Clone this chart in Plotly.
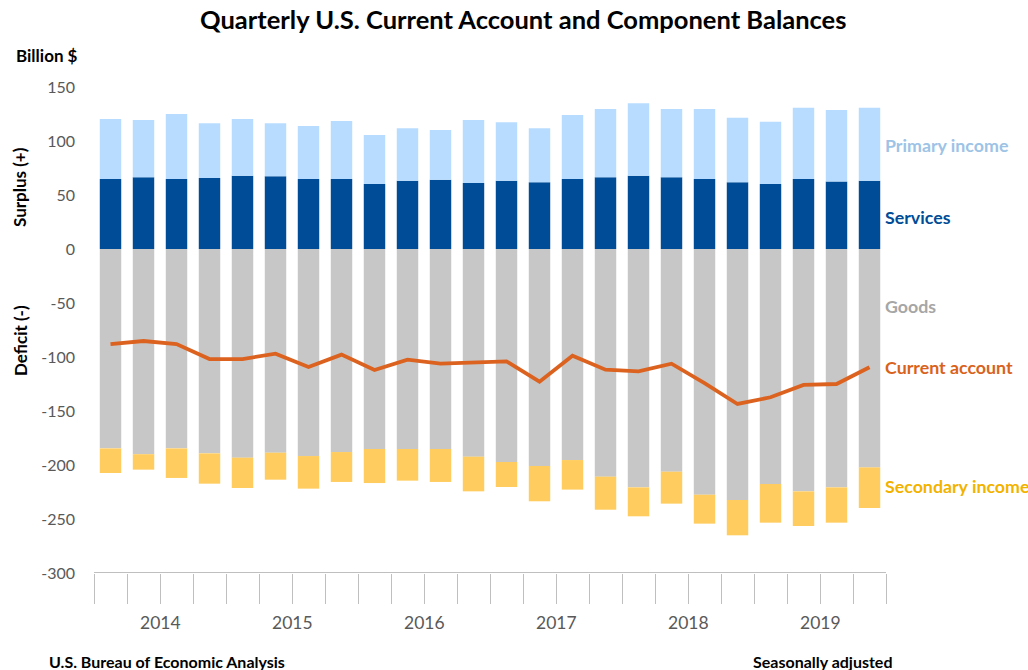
import plotly.graph_objects as go

years = ["2014", "2015", "2016", "2017", "2018", "2019"]
quarters = ["Q1", "Q2", "Q3", "Q4"]
periods = [f"{y} {q}" for y in years for q in quarters]

goods = [-184.6, -190.0, -184.6, -189.2, -193.2, -188.6, -191.7, -188.0, -185.2, -185.2, -185.2, -192.3,
         -197.2, -200.9, -195.4, -210.8, -220.7, -206.2, -227.5, -232.4, -217.6, -224.4, -220.7, -202.2]
secondary_income = [-22.8, -14.3, -27.4, -28.1, -28.1, -25.0, -30.2, -27.7, -31.5, -29.3, -30.5, -32.1,
                    -23.2, -32.7, -27.4, -30.6, -26.8, -29.6, -26.8, -32.7, -35.8, -32.1, -32.7, -37.6]
services = [64.8, 66.4, 64.8, 65.7, 67.9, 67.3, 64.8, 64.8, 60.2, 63.3, 64.2, 61.1,
            63.3, 61.7, 64.8, 66.4, 67.9, 66.4, 64.8, 61.7, 60.2, 64.8, 62.6, 63.3]
primary_income = [55.6, 53.0, 60.2, 50.7, 52.5, 49.1, 49.1, 53.7, 45.4, 48.4, 46.0, 58.3,
                  54.0, 50.0, 59.3, 63.2, 67.0, 63.2, 64.8, 59.9, 57.7, 66.1, 66.1, 67.6]
current_account = [-88.0, -85.2, -88.0, -101.9, -101.9, -96.9, -109.3, -97.8, -112.0, -102.5, -106.2, -105.2,
                   -104.0, -122.8, -98.8, -111.7, -113.3, -106.2, -124.1, -143.5, -137.3, -125.9, -125.0, -109.5]
y_ticks = [150, 100, 50, 0, -50, -100, -150, -200, -250, -300]
y_tick_text = ["150", "100", "50", "0", "-50", "-100", "-150", "-200", "-250", "-300"]

FONT = "Lato"
C_PRIM = "#b7dcff"
C_SERV = "#004c97"
C_GOODS = "#c6c7c6"
C_SEC = "#ffcd5f"
C_CA = "#dc6220"

W, H = 1028, 670
ML, MR, MT, MB = 94, 142, 87, 97

x = list(range(len(periods)))

fig = go.Figure()
fig.add_trace(go.Bar(x=x, y=services, name="Services", marker=dict(color=C_SERV, line=dict(width=0)),
                     customdata=periods, hovertemplate="%{customdata}: %{y}<extra>Services</extra>"))
fig.add_trace(go.Bar(x=x, y=primary_income, name="Primary income", marker=dict(color=C_PRIM, line=dict(width=0)),
                     customdata=periods, hovertemplate="%{customdata}: %{y}<extra>Primary income</extra>"))
fig.add_trace(go.Bar(x=x, y=goods, name="Goods", marker=dict(color=C_GOODS, line=dict(width=0)),
                     customdata=periods, hovertemplate="%{customdata}: %{y}<extra>Goods</extra>"))
fig.add_trace(go.Bar(x=x, y=secondary_income, name="Secondary income", marker=dict(color=C_SEC, line=dict(width=0)),
                     customdata=periods, hovertemplate="%{customdata}: %{y}<extra>Secondary income</extra>"))
fig.add_trace(go.Scatter(x=x, y=current_account, name="Current account", mode="lines",
                         line=dict(color=C_CA, width=3.8),
                         customdata=periods, hovertemplate="%{customdata}: %{y}<extra>Current account</extra>"))

n = len(periods)
year_edges = [i * 4 - 0.5 for i in range(len(years) + 1)]
year_centers = [i * 4 + 1.5 for i in range(len(years))]

fig.update_layout(
    width=W, height=H,
    barmode="relative", bargap=0.35,
    plot_bgcolor="white", paper_bgcolor="white",
    showlegend=False,
    margin=dict(l=ML, r=MR, t=MT, b=MB),
    font=dict(family=FONT, color="#595959"),
    title=dict(text="<b>Quarterly U.S. Current Account and Component Balances</b>",
               x=0.509, xanchor="center", y=1 - 20 / H, yanchor="middle",
               font=dict(size=25.5, color="black", family=FONT)),
    xaxis=dict(range=[-0.5, n - 0.5], showgrid=False, zeroline=False,
               showline=False, tickvals=year_edges, ticktext=[""] * len(year_edges),
               ticks="outside", ticklen=60, tickcolor="#bfbfbf", tickwidth=1,
               minor=dict(tickvals=[i - 0.5 for i in range(n + 1)], ticks="outside", ticklen=30,
                          tickcolor="#bfbfbf", tickwidth=1),
               anchor="y"),
    yaxis=dict(range=[-300, 150], tickvals=y_ticks, ticktext=y_tick_text,
               showgrid=False, zeroline=False, showline=False,
               ticks="", tickfont=dict(size=16, color="#595959", family=FONT), ticklabelstandoff=18),
)

# category axis line along the bottom (y = -300)
fig.add_shape(type="line", xref="x", yref="y", x0=-0.5, x1=n - 0.5, y0=-300, y1=-300,
              line=dict(color="#bfbfbf", width=2))

for yr, cx in zip(years, year_centers):
    fig.add_annotation(x=cx, y=-300, xref="x", yref="y", text=yr, showarrow=False,
                       yshift=-49, font=dict(size=17.5, color="#595959", family=FONT))


def px_note(txt, px, py, size, xanchor="left", angle=0, color="black"):
    fig.add_annotation(x=(px - ML) / (W - ML - MR), y=1 - (py - MT) / (H - MT - MB),
                       xref="paper", yref="paper", text=f"<b>{txt}</b>", showarrow=False,
                       xanchor=xanchor, yanchor="middle", textangle=angle,
                       font=dict(size=size, color=color, family=FONT))


# series labels at right
right_labels = [
    ("Primary income", 145, "#9dc3e6"),
    ("Services", 217, C_SERV),
    ("Goods", 306, "#a6a6a6"),
    ("Current account", 367, "#d9621c"),
    ("Secondary income", 486, "#f2b300"),
]
for txt, py, col in right_labels:
    px_note(txt, 883, py, 17.8, color=col)

px_note("Billion $", 14, 55, 17)
px_note("Surplus (+)", 20, 187, 17, xanchor="center", angle=-90)
px_note("Deficit (-)", 20, 341, 17, xanchor="center", angle=-90)
px_note("U.S. Bureau of Economic Analysis", 47, 661, 16)
px_note("Seasonally adjusted", 895, 661, 16, xanchor="right")

fig.write_html("out.html",
               config={"displayModeBar": False},
               post_script="document.body.style.margin='0';document.body.style.padding='0';"
                           "document.documentElement.style.overflow='hidden';")
